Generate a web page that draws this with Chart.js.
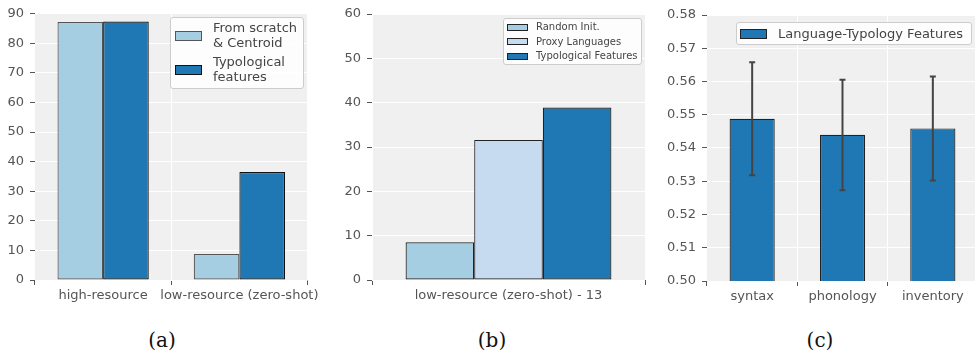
<!DOCTYPE html>
<html>
<head>
<meta charset="utf-8">
<script src="https://cdn.jsdelivr.net/npm/chart.js"></script>
<style>
  body { margin: 0; width: 975px; height: 360px; overflow: hidden; background: #fff; position: relative; font-family: "DejaVu Sans", sans-serif; }
  .panel { position: absolute; top: 0; height: 310px; }
  .legend { position: absolute; box-sizing: border-box; background: rgba(255,255,255,0.85); border: 1px solid #ccc; border-radius: 3px; color: #444; display: flex; flex-direction: column; }
  .legend .row { display: flex; align-items: center; }
  .legend .sw { flex: none; box-sizing: border-box; border: 1.2px solid #222; }
  .legend .lbl { white-space: pre-line; }
  .caption { position: absolute; top: 328px; width: 100px; text-align: center; font-family: "DejaVu Serif", serif; font-size: 20px; color: #111; }
</style>
</head>
<body>
<div class="panel" style="left:0;width:325px"><canvas id="chartA"></canvas></div>
<div class="panel" style="left:325px;width:325px"><canvas id="chartB"></canvas></div>
<div class="panel" style="left:650px;width:330px"><canvas id="chartC"></canvas></div>
<div class="legend" id="legA" style="left:170px;top:17px;width:134px;height:72px;padding:3px 4px;gap:5px;font-size:13px;line-height:14.7px"></div>
<div class="legend" id="legB" style="left:503px;top:18px;width:139px;height:47px;padding:1px 3px;font-size:10px;line-height:14.5px"></div>
<div class="legend" id="legC" style="left:736px;top:22px;width:236px;height:23px;padding:2px 3px;font-size:13px;line-height:17px"></div>
<div class="caption" style="left:112px">(a)</div>
<div class="caption" style="left:442px">(b)</div>
<div class="caption" style="left:770px">(c)</div>
<script>
// panel (a)
const catsA = ['high-resource', 'low-resource (zero-shot)'];
const scratchA = [87.2, 8.8];
const typoA = [87.4, 36.5];
const ticksA = [0, 90, 10];

// panel (b)
const catsB = ['low-resource (zero-shot) - 13'];
const randomB = [8.5];
const proxyB = [31.6];
const typoB = [38.9];
const ticksB = [0, 60, 10];

// panel (c)
const catsC = ['syntax', 'phonology', 'inventory'];
const meanC = [0.5488, 0.5440, 0.5459];
const errLowC = [0.5318, 0.5273, 0.5302];
const errHighC = [0.5658, 0.5605, 0.5615];
const ticksC = [0.50, 0.58, 0.01];

const LIGHT = '#a6cee3';
const DARK = '#1f78b4';
const PALE = '#c6dbef';
const TICK = '#555';

Chart.defaults.font.family = '"DejaVu Sans", sans-serif';
Chart.defaults.font.size = 13;
Chart.defaults.color = TICK;

const bgPlugin = {
  id: 'plotBg',
  beforeDraw(chart) {
    const a = chart.chartArea, ctx = chart.ctx;
    ctx.save();
    ctx.fillStyle = '#f0f0f0';
    ctx.fillRect(a.left, a.top, a.right - a.left, a.bottom - a.top);
    ctx.restore();
  }
};

const errPlugin = {
  id: 'errBars',
  afterDatasetsDraw(chart) {
    const lo = chart.options.plugins.errBars.low, hi = chart.options.plugins.errBars.high;
    const y = chart.scales.y, ctx = chart.ctx;
    ctx.save();
    ctx.strokeStyle = '#444';
    ctx.lineWidth = 2;
    chart.getDatasetMeta(0).data.forEach((bar, i) => {
      const y1 = y.getPixelForValue(lo[i]), y2 = y.getPixelForValue(hi[i]);
      ctx.beginPath();
      ctx.moveTo(bar.x, y1); ctx.lineTo(bar.x, y2);
      ctx.moveTo(bar.x - 3, y1); ctx.lineTo(bar.x + 3, y1);
      ctx.moveTo(bar.x - 3, y2); ctx.lineTo(bar.x + 3, y2);
      ctx.stroke();
    });
    ctx.restore();
  }
};

function makeOptions(yTicks, yWidth, xHeight, pad, catPct, fmt) {
  return {
    responsive: true,
    maintainAspectRatio: false,
    animation: false,
    layout: { padding: pad },
    datasets: { bar: { categoryPercentage: catPct, barPercentage: 1, borderSkipped: false } },
    plugins: { legend: { display: false }, tooltip: { enabled: false } },
    scales: {
      x: {
        offset: true,
        grid: { offset: true, color: '#fff', lineWidth: 1, tickColor: TICK, tickLength: 5 },
        border: { display: false },
        ticks: { maxRotation: 0, minRotation: 0, autoSkip: false, padding: 3, color: TICK },
        afterFit(s) { s.height = xHeight; }
      },
      y: {
        min: yTicks[0],
        max: yTicks[1],
        grid: { color: '#fff', lineWidth: 1, tickColor: TICK, tickLength: 5 },
        border: { display: false },
        ticks: { stepSize: yTicks[2], padding: 6, color: TICK, callback: fmt },
        afterFit(s) { s.width = yWidth; }
      }
    }
  };
}

const chartA = new Chart(document.getElementById('chartA'), {
  type: 'bar',
  data: {
    labels: catsA,
    datasets: [
      { label: 'From scratch\n& Centroid', data: scratchA, backgroundColor: LIGHT, borderColor: '#555', borderWidth: 1.2 },
      { label: 'Typological\nfeatures', data: typoA, backgroundColor: DARK, borderColor: '#111', borderWidth: 1.2 }
    ]
  },
  options: makeOptions(ticksA, 35, 30, { top: 11, right: 14, left: 0, bottom: 0 }, 0.67, v => v),
  plugins: [bgPlugin]
});

const chartB = new Chart(document.getElementById('chartB'), {
  type: 'bar',
  data: {
    labels: catsB,
    datasets: [
      { label: 'Random Init.', data: randomB, backgroundColor: LIGHT, borderColor: '#222', borderWidth: 1.2 },
      { label: 'Proxy Languages', data: proxyB, backgroundColor: PALE, borderColor: '#222', borderWidth: 1.2 },
      { label: 'Typological Features', data: typoB, backgroundColor: DARK, borderColor: '#222', borderWidth: 1.2 }
    ]
  },
  options: makeOptions(ticksB, 47, 30, { top: 14, right: 5, left: 0, bottom: 0 }, 0.754, v => v),
  plugins: [bgPlugin]
});

const optsC = makeOptions(ticksC, 57, 29, { top: 15, right: 2, left: 0, bottom: 0 }, 0.5, v => v.toFixed(2));
optsC.plugins.errBars = { low: errLowC, high: errHighC };
const chartC = new Chart(document.getElementById('chartC'), {
  type: 'bar',
  data: {
    labels: catsC,
    datasets: [
      { label: 'Language-Typology Features', data: meanC, backgroundColor: DARK, borderColor: '#222', borderWidth: 1.2 }
    ]
  },
  options: optsC,
  plugins: [bgPlugin, errPlugin]
});

function makeLegend(chart, id, sw) {
  const box = document.getElementById(id);
  chart.data.datasets.forEach(ds => {
    const row = document.createElement('div');
    row.className = 'row';
    const s = document.createElement('span');
    s.className = 'sw';
    s.style.width = sw.w + 'px';
    s.style.height = sw.h + 'px';
    s.style.marginRight = sw.gap + 'px';
    s.style.background = ds.backgroundColor;
    s.style.borderColor = ds.borderColor;
    const t = document.createElement('span');
    t.className = 'lbl';
    t.textContent = ds.label;
    row.appendChild(s);
    row.appendChild(t);
    box.appendChild(row);
  });
}

makeLegend(chartA, 'legA', { w: 27, h: 10, gap: 11 });
makeLegend(chartB, 'legB', { w: 21, h: 7, gap: 8 });
makeLegend(chartC, 'legC', { w: 27, h: 10, gap: 11 });
</script>
</body>
</html>
